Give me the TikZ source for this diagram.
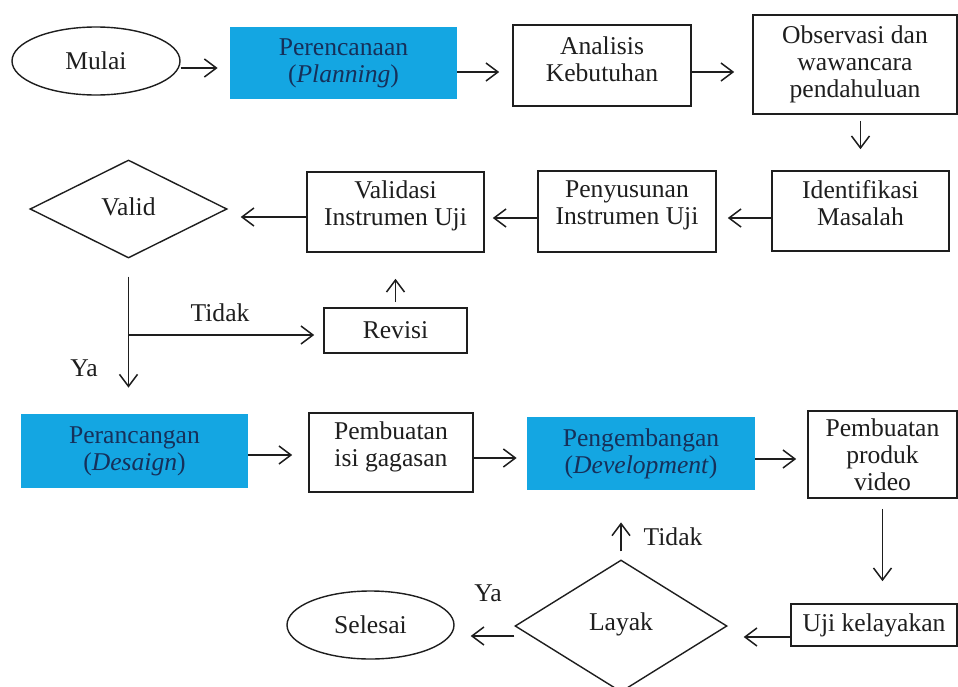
\documentclass[tikz,border=0pt]{standalone}
\usepackage{fontspec}
\setmainfont{Liberation Serif}
\usetikzlibrary{shapes.geometric,arrows.meta}
\definecolor{cyanbox}{RGB}{20,166,226}
\definecolor{navytext}{RGB}{22,48,90}
\definecolor{inkc}{RGB}{30,30,30}
\tikzset{
  every node/.style={font=\fontsize{12.8}{13.5}\selectfont, text=inkc, inner sep=0pt},
  box/.style={draw=inkc, line width=0.8pt, rectangle, align=center},
  bluebox/.style={fill=cyanbox, rectangle, align=center, text=navytext},
  oval/.style={draw=inkc, line width=0.7pt, ellipse},
  decision/.style={draw=inkc, line width=0.7pt, diamond},
  arr/.style={draw=inkc, line width=0.75pt, -{Straight Barb[length=6pt,width=9pt,line width=0.75pt]}},
  plain/.style={draw=inkc, line width=0.7pt}
}
\begin{document}
\begin{tikzpicture}[x=0.5pt,y=-0.5pt]
\useasboundingbox[fill=white] (0,0) rectangle (958,686);
% row 1
\node[oval, minimum width=84pt, minimum height=34pt] (mulai) at (96,61) {Mulai};
\node[bluebox, minimum width=113.5pt, minimum height=36pt] (plan) at (343.5,63) {Perencanaan\\(\textit{Planning})};
\node[box, minimum width=89pt, minimum height=40.5pt, text depth=6pt] (ana) at (602,65.5) {Analisis\\Kebutuhan};
\node[box, minimum width=102pt, minimum height=49.5pt] (obs) at (855,64.5) {Observasi dan\\wawancara\\pendahuluan};
% row 2
\node[box, minimum width=88.5pt, minimum height=40pt, text depth=8pt] (iden) at (860.5,211) {Identifikasi\\Masalah};
\node[box, minimum width=89pt, minimum height=40.5pt, text depth=9pt] (peny) at (627,211.5) {Penyusunan\\Instrumen Uji};
\node[box, minimum width=88.5pt, minimum height=40pt, text depth=9pt] (vali) at (395.5,212) {Validasi\\Instrumen Uji};
\node[decision, minimum width=98.5pt, minimum height=49pt] (valid) at (128.5,209) {\raisebox{2pt}{Valid}};
\node[box, minimum width=71.5pt, minimum height=22.5pt] (rev) at (395.5,330.5) {Revisi};
% row 3
\node[bluebox, minimum width=113.5pt, minimum height=37pt] (peranc) at (134.5,451) {Perancangan\\(\textit{Desaign})};
\node[box, minimum width=82pt, minimum height=39.5pt, text depth=8pt] (gag) at (391,452.5) {Pembuatan\\isi gagasan};
\node[bluebox, minimum width=114pt, minimum height=36.5pt] (peng) at (641,453.5) {Pengembangan\\(\textit{Development})};
\node[box, minimum width=74.5pt, minimum height=43.5pt] (vid) at (882.5,454.5) {Pembuatan\\produk\\video};
% row 4
\node[box, minimum width=83pt, minimum height=21pt] (uji) at (874,625) {Uji kelayakan};
\node[decision, minimum width=106pt, minimum height=66pt] (layak) at (621,626) {\raisebox{4pt}{Layak}};
\node[oval, minimum width=83.5pt, minimum height=34pt] (sel) at (370.5,625) {Selesai};
% labels
\node (t1) at (220,313) {Tidak};
\node (y1) at (84,368) {Ya};
\node (t2) at (673,537) {Tidak};
\node (y2) at (488,593) {Ya};
% connectors
\draw[arr, shorten >=6pt] (mulai.east |- 0,68) -- (plan.west |- 0,68);
\draw[arr, shorten >=6.5pt] (plan.east |- 0,72) -- (ana.west |- 0,72);
\draw[arr, shorten >=9pt] (ana.east |- 0,72) -- (obs.west |- 0,72);
\draw[arr, shorten <=3pt, shorten >=10.5pt] (obs.south -| iden.north) -- (iden.north);
\draw[arr, shorten >=5.5pt] (iden.west |- 0,218) -- (peny.east |- 0,218);
\draw[arr, shorten >=4pt] (peny.west |- 0,218) -- (vali.east |- 0,218);
\draw[arr, shorten >=6.5pt] (vali.west |- 0,217) -- (valid.east |- 0,217);
\draw[arr, shorten <=9pt, shorten >=13pt] (valid.south) -- (valid.south |- peranc.north);
\coordinate (br) at (valid.south |- 0,335);
\draw[arr, shorten >=4.5pt] (br) -- (rev.west |- br);
\draw[arr, shorten <=2.5pt, shorten >=13pt] (rev.north) -- (rev.north |- vali.south);
\draw[arr, shorten >=8pt] (peranc.east |- 0,455) -- (gag.west |- 0,455);
\draw[arr, shorten >=5pt] (gag.east |- 0,458) -- (peng.west |- 0,458);
\draw[arr, shorten >=5.5pt] (peng.east |- 0,459) -- (vid.west |- 0,459);
\draw[arr, shorten <=5pt, shorten >=11pt] (vid.south) -- (vid.south |- uji.north);
\draw[arr, shorten >=8pt] (uji.west |- 0,637) -- (layak.east |- 0,637);
\draw[arr, shorten <=4pt, shorten >=16pt] (layak.north) -- (layak.north |- peng.south);
\draw[arr, shorten >=8pt] (layak.west |- 0,636) -- (sel.east |- 0,636);
\end{tikzpicture}
\end{document}
